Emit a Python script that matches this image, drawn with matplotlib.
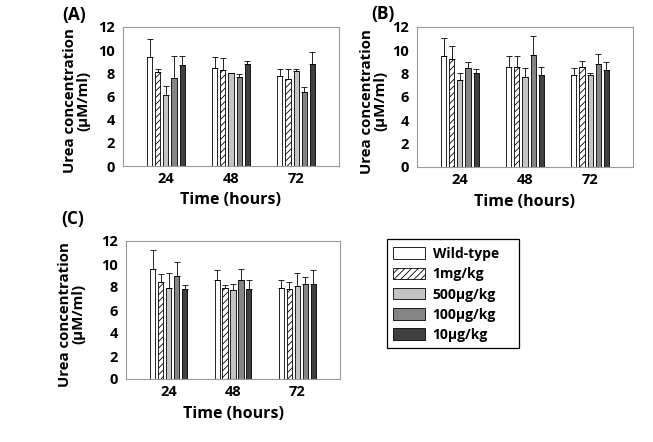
import numpy as np
import matplotlib.pyplot as plt
from matplotlib.patches import Patch, Rectangle

# data
times = ["24", "48", "72"]
groups = ["Wild-type", "1mg/kg", "500\u03bcg/kg", "100\u03bcg/kg", "10\u03bcg/kg"]

mean_a = [[9.4, 8.5, 7.8], [8.1, 8.3, 7.5], [6.1, 8.0, 8.2], [7.6, 7.7, 6.4], [8.7, 8.8, 8.8]]
top_a = [[11.0, 9.4, 8.4], [8.4, 9.3, 8.4], [6.9, 8.0, 8.35], [9.5, 7.9, 6.8], [9.5, 9.1, 9.8]]

mean_b = [[9.5, 8.6, 7.9], [9.3, 8.6, 8.6], [7.5, 7.7, 7.9], [8.5, 9.6, 8.8], [8.1, 7.9, 8.3]]
top_b = [[11.1, 9.5, 8.5], [10.4, 9.5, 9.1], [8.1, 8.5, 8.05], [9.0, 11.2, 9.7], [8.4, 8.6, 9.0]]

mean_c = [[9.6, 8.6, 7.9], [8.4, 7.9, 7.8], [7.9, 7.7, 8.1], [9.0, 8.6, 8.3], [7.8, 7.8, 8.3]]
top_c = [[11.2, 9.5, 8.6], [9.1, 8.2, 8.4], [9.2, 8.3, 9.2], [10.2, 9.6, 8.9], [8.2, 8.6, 9.5]]

colors = ["white", "white", "#c4c4c4", "#858585", "#404040"]
hatches = [None, "/////", None, None, None]

W, H = 653, 442
FONT = ["Open Sans", "DejaVu Sans"]
BOLD = dict(fontweight="bold", family=FONT)


def px_axes(fig, left, top, right, bottom):
    return fig.add_axes([left / W, 1 - bottom / H, (right - left) / W, (bottom - top) / H])


def draw_panel(ax, means, tops):
    x = np.arange(len(times))
    width = 0.078
    step = 0.124
    for i, (m, t) in enumerate(zip(means, tops)):
        pos = x + (i - 2) * step
        m = np.array(m)
        err = np.array(t) - m
        ax.bar(pos, m, width, color=colors[i], edgecolor="black", linewidth=0.6,
               hatch=hatches[i], zorder=2)
        ax.errorbar(pos, m, yerr=[np.zeros_like(err), err], fmt="none",
                    ecolor="black", elinewidth=0.6, capsize=2, capthick=0.6, zorder=3)
    ax.set_xlim(-0.66, 2.66)
    ax.set_ylim(0, 12)
    ax.set_yticks(range(0, 13, 2))
    ax.set_xticks(x)
    ax.set_xticklabels(times)
    for s in ax.spines.values():
        s.set_color("#9a9a9a")
        s.set_linewidth(0.8)
    ax.tick_params(axis="x", length=0, pad=4)
    ax.tick_params(axis="y", length=0, pad=6)
    for lab in ax.get_xticklabels() + ax.get_yticklabels():
        lab.set_fontsize(10.5)
        lab.set_fontweight("bold")
        lab.set_family(FONT)
    ax.set_xlabel("Time (hours)", fontsize=11.5, labelpad=5, **BOLD)
    ax.set_ylabel("Urea concentration\n(\u03bcM/ml)", fontsize=10.8, linespacing=0.95, **BOLD)


plt.rcParams["hatch.linewidth"] = 0.6
fig = plt.figure(figsize=(W / 100, H / 100), dpi=100)

ax_a = px_axes(fig, 123, 27, 339, 166)
ax_b = px_axes(fig, 417, 27, 633, 167)
ax_c = px_axes(fig, 126, 241, 340, 379)

draw_panel(ax_a, mean_a, top_a)
draw_panel(ax_b, mean_b, top_b)
draw_panel(ax_c, mean_c, top_c)
ax_a.yaxis.set_label_coords(-0.15, 0.47)
ax_b.yaxis.set_label_coords(-0.135, 0.47)
ax_c.yaxis.set_label_coords(-0.19, 0.47)

fig.text(62 / W, 1 - 15 / H, "(A)", fontsize=12.5, va="center", **BOLD)
fig.text(371 / W, 1 - 14 / H, "(B)", fontsize=12.5, va="center", **BOLD)
fig.text(61 / W, 1 - 219 / H, "(C)", fontsize=12.5, va="center", **BOLD)

# legend frame drawn as its own box to match the reference's spacing
fig.patches.append(Rectangle((387 / W, 1 - 348 / H), 132 / W, 109 / H, transform=fig.transFigure,
                             facecolor="white", edgecolor="black", linewidth=0.9))
handles = [Patch(facecolor=colors[i], edgecolor="black", linewidth=0.6, hatch=hatches[i])
           for i in range(len(groups))]
leg = fig.legend(handles, groups, loc="upper left", borderaxespad=0,
                 bbox_to_anchor=(393 / W, 1 - 247 / H), frameon=False,
                 prop=dict(weight="bold", size=10, family=FONT), handlelength=2.3,
                 handleheight=0.9, labelspacing=0.45, borderpad=0, handletextpad=0.55)
leg.set_zorder(5)

fig.savefig("out.png", dpi=100)
